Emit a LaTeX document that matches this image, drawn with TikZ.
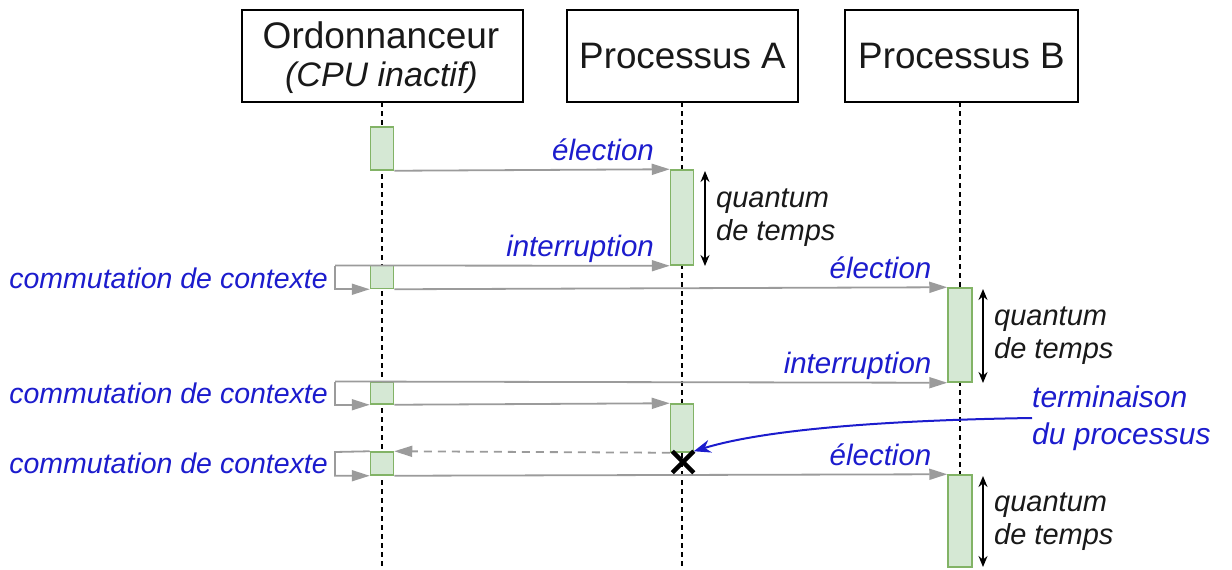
\documentclass[tikz,border=0pt]{standalone}
\usepackage{fontspec}
\setmainfont{Liberation Sans}
\usetikzlibrary{arrows.meta,shapes.misc}
\definecolor{actfill}{RGB}{213,232,212}
\definecolor{actline}{RGB}{130,179,102}
\definecolor{msggray}{RGB}{155,155,155}
\definecolor{lblue}{RGB}{28,28,205}
\definecolor{txt}{RGB}{25,25,25}
\tikzset{
  actor/.style={draw=black, line width=1.8pt, fill=white, minimum height=92pt, inner sep=0pt, font=\fontsize{36.8}{43}\selectfont, text=txt, align=center},
  life/.style={line width=1.6pt, dash pattern=on 5pt off 4pt},
  act/.style={draw=actline, fill=actfill, line width=1.5pt, minimum width=23pt, inner sep=0pt},
  msg/.style={draw=msggray, line width=1.8pt, -{Triangle[length=18pt,width=11pt,fill=msggray]}},
  msgd/.style={msg, dash pattern=on 8pt off 6pt},
  lbl/.style={font=\fontsize{29.5}{34}\selectfont\itshape, text=lblue, inner sep=0pt},
  mlbl/.style={lbl, pos=1, anchor=base east, xshift=-15pt, yshift=9pt},
  clbl/.style={font=\fontsize{28.5}{34}\selectfont\itshape, text=lblue, inner sep=0pt, anchor=east},
  qlbl/.style={font=\fontsize{29}{33}\selectfont\itshape, text=txt, align=left, inner sep=0pt, anchor=west},
  quant/.style={line width=1.6pt, {Stealth[length=11pt,width=9pt]}-{Stealth[length=11pt,width=9pt]}},
}
\begin{document}
\begin{tikzpicture}[x=1pt,y=-1pt]
\useasboundingbox (0,0) rectangle (1232,570);
% actors
\node[actor, minimum width=281pt] (ord) at (382.5,56) {};
\node[font=\fontsize{37}{43}\selectfont, text=txt, inner sep=0pt] (ordt) at (381,35) {Ordonnanceur};
\node[font=\fontsize{34}{40}\selectfont\itshape, text=txt, inner sep=0pt] (ords) at (381.5,78) {(CPU inactif)};
\node[actor, minimum width=231pt] (pa) at (682.5,56) {Processus A};
\node[actor, minimum width=233pt] (pb) at (961.5,56) {Processus B};
% lifelines
\coordinate (oe) at (382,570);
\coordinate (ae) at (682,570);
\coordinate (be) at (960,570);
\draw[life] (382,102) -- (oe);
\draw[life] (682,102) -- (ae);
\draw[life] (960,102) -- (be);
% activations
\node[act, minimum height=43pt] (s1) at (382,148.5) {};
\node[act, minimum height=95pt] (a1) at (682,217.5) {};
\node[act, minimum height=23pt] (s2) at (382,277) {};
\node[act, minimum height=94pt, minimum width=24pt] (b1) at (960,335) {};
\node[act, minimum height=22pt] (s3) at (382,393) {};
\node[act, minimum height=48pt] (a2) at (682,428) {};
\node[act, minimum height=23pt] (s4) at (382,463.5) {};
\node[act, minimum height=92pt, minimum width=24pt] (b2) at (960,521) {};
% loop corners
\coordinate (l1) at (335,265.5);
\coordinate (l2) at (335,381.5);
\coordinate (l3) at (335,452);
% messages
\draw[msg] (s1.south east) -- (a1.north west) node[mlbl] {élection};
\draw[msg] (l1) -- (a1.south west) node[mlbl] {interruption};
\draw[msg] (l1) |- (s2.south west);
\draw[msg] (s2.south east) -- (b1.north west) node[mlbl] {élection};
\draw[msg] (l2) -- (b1.south west) node[mlbl] {interruption};
\draw[msg] (l2) |- (s3.south west);
\draw[msg] (s3.south east) -- (a2.north west);
\draw[msgd] (a2.south west) -- (s4.north east);
\draw[msg] (s4.north west) -- (l3) |- (s4.south west);
\draw[msg] (s4.south east) -- (b2.north west) node[mlbl] {élection};
% context switch labels
\node[clbl] (c1) at (328,278) {commutation de contexte};
\node[clbl] (c2) at (328,393) {commutation de contexte};
\node[clbl] (c3) at (328,463) {commutation de contexte};
% termination cross
\node[draw=black, cross out, line width=4.5pt, minimum size=17pt, inner sep=0pt] (term) at (683,462) {};
% quantum markers
\coordinate (q1t) at (705,171);
\coordinate (q1b) at (705,266);
\draw[quant] (q1t) -- (q1b);
\node[qlbl] (q1) at (716,218) {quantum\\de temps};
\coordinate (q2t) at (983,289);
\coordinate (q2b) at (983,383);
\draw[quant] (q2t) -- (q2b);
\node[qlbl] (q2) at (994,336) {quantum\\de temps};
\coordinate (q3t) at (983,476);
\coordinate (q3b) at (983,567);
\draw[quant] (q3t) -- (q3b);
\node[qlbl] (q3) at (994,522) {quantum\\de temps};
% termination label
\node[lbl, align=left, anchor=west, font=\fontsize{30}{37}\selectfont\itshape] (tl) at (1032,418) {terminaison\\du processus};
\draw[draw=lblue, line width=2pt, -{Stealth[length=17pt,width=13pt,fill=lblue]}] (tl.west) .. controls (900,420) and (770,428) .. (term.north east);
\end{tikzpicture}
\end{document}
